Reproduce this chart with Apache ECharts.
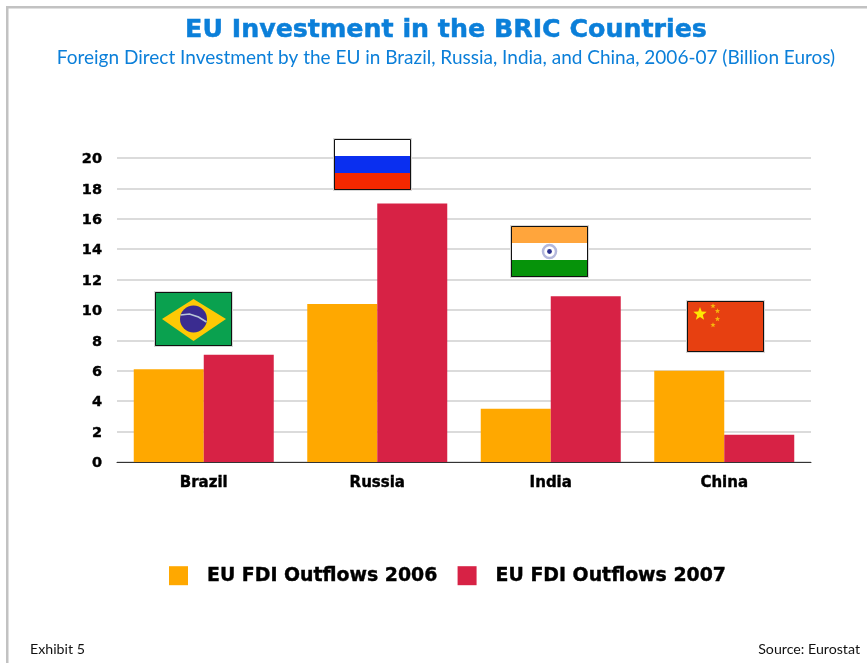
<!DOCTYPE html>
<html>
<head>
<meta charset="utf-8">
<style>html,body{margin:0;padding:0;background:#fff}#chart{width:867px;height:663px}</style>
<script src="https://cdn.jsdelivr.net/npm/echarts@6/dist/echarts.min.js"></script>
</head>
<body>
<div id="chart"></div>
<script>
// EU foreign direct investment outflows to the BRIC countries, billion euros
var categories = ['Brazil', 'Russia', 'India', 'China'];
var outflows2006 = [6.1, 10.4, 3.5, 6.0];
var outflows2007 = [7.05, 17.0, 10.9, 1.8];
var yTicks = [0, 20, 2];

// Value each flag rests on, per country
var flagBase = [7.6, 17.9, 12.17, 7.25];
// Horizontal shift of each flag from its category centre, in pixels
var flagShift = [-10, -5, -1, 1];
// Flag heights in pixels; the Brazilian one is a little taller
var flagHeight = [54, 51, 51, 51];

var FONT = 'Lato, "Noto Sans", sans-serif';
var HEAVY = '"DejaVu Sans", sans-serif';
var BLUE = '#0b7fd9';
var FLAG_W = 77;

function starPoints(cx, cy, r) {
  var pts = [];
  for (var i = 0; i < 10; i++) {
    var rad = i % 2 ? r * 0.42 : r;
    var a = -Math.PI / 2 + i * Math.PI / 5;
    pts.push([cx + rad * Math.cos(a), cy + rad * Math.sin(a)]);
  }
  return pts;
}

function rect(x, y, w, h, fill) {
  return { type: 'rect', shape: { x: x, y: y, width: w, height: h }, style: { fill: fill } };
}

// Each flag is built from plain shapes in a box with its top-left at (x, y)
var flagPainters = {
  Brazil: function (x, y, w, h) {
    var cx = x + w / 2, cy = y + h / 2;
    return [
      rect(x, y, w, h, '#0aa14f'),
      { type: 'polygon', shape: { points: [[x + 7, cy], [cx, y + 7], [x + w - 6, cy], [cx, y + h - 5]] }, style: { fill: '#fdc905' } },
      { type: 'circle', shape: { cx: cx, cy: cy, r: 13.5 }, style: { fill: '#3a2c90' } },
      { type: 'polyline', shape: { points: [[cx - 13, cy - 4], [cx - 4, cy - 5], [cx + 5, cy - 2], [cx + 13, cy + 3]] }, style: { fill: 'none', stroke: '#b9c6d8', lineWidth: 1.6 } }
    ];
  },
  Russia: function (x, y, w, h) {
    return [
      rect(x, y, w, h / 3, '#ffffff'),
      rect(x, y + h / 3, w, h / 3, '#0a2ff0'),
      rect(x, y + 2 * h / 3, w, h / 3, '#f52800')
    ];
  },
  India: function (x, y, w, h) {
    var cx = x + w / 2, cy = y + h / 2;
    return [
      rect(x, y, w, h / 3, '#ffa53c'),
      rect(x, y + h / 3, w, h / 3, '#ffffff'),
      rect(x, y + 2 * h / 3, w, h / 3, '#06930a'),
      { type: 'circle', shape: { cx: cx, cy: cy, r: 6.5 }, style: { fill: '#ffffff', stroke: '#b4b8dc', lineWidth: 2.5 } },
      { type: 'circle', shape: { cx: cx, cy: cy, r: 2.4 }, style: { fill: '#2a2f8f' } }
    ];
  },
  China: function (x, y, w, h) {
    return [
      rect(x, y, w, h, '#e74011'),
      { type: 'polygon', shape: { points: starPoints(x + 13, y + 13, 7) }, style: { fill: '#fde803' } },
      { type: 'polygon', shape: { points: starPoints(x + 26, y + 5, 2.8) }, style: { fill: '#f7b50c' } },
      { type: 'polygon', shape: { points: starPoints(x + 30.5, y + 10, 2.8) }, style: { fill: '#f7b50c' } },
      { type: 'polygon', shape: { points: starPoints(x + 30.5, y + 18, 2.8) }, style: { fill: '#f7b50c' } },
      { type: 'polygon', shape: { points: starPoints(x + 26, y + 24, 2.8) }, style: { fill: '#f7b50c' } }
    ];
  }
};

var chart = echarts.init(document.getElementById('chart'), null, { renderer: 'canvas' });

chart.setOption({
  animation: false,
  backgroundColor: '#ffffff',
  title: [
    { text: 'EU Investment in the BRIC Countries', left: 441, top: 13, textAlign: 'center',
      textStyle: { fontFamily: HEAVY, fontWeight: 'bold', fontSize: 25.3, color: BLUE, textBorderColor: BLUE, textBorderWidth: 0.5 } },
    { text: 'Foreign Direct Investment by the EU in Brazil, Russia, India, and China, 2006-07 (Billion Euros)', left: 441, top: 43, textAlign: 'center',
      textStyle: { fontFamily: FONT, fontWeight: 400, fontSize: 19, color: BLUE } },
    { text: 'Exhibit 5', left: 25, top: 637,
      textStyle: { fontFamily: FONT, fontWeight: 400, fontSize: 14.2, color: '#111' } },
    { text: 'Source: Eurostat', right: 2, top: 637,
      textStyle: { fontFamily: FONT, fontWeight: 400, fontSize: 14.2, color: '#111' } }
  ],
  legend: {
    left: 164, top: 561, itemWidth: 19, itemHeight: 19, itemGap: 20,
    icon: 'rect', selectedMode: false,
    textStyle: { fontFamily: HEAVY, fontWeight: 'bold', fontSize: 18.9, color: '#000', padding: [2, 0, 0, 14], textBorderColor: '#000', textBorderWidth: 0.4 },
    data: ['EU FDI Outflows 2006', 'EU FDI Outflows 2007']
  },
  grid: { left: 117, right: 56, top: 158, height: 304, containLabel: false },
  xAxis: {
    type: 'category', data: categories,
    axisLine: { lineStyle: { color: '#333', width: 1 } },
    axisTick: { show: false },
    axisLabel: { margin: 14, fontFamily: HEAVY, fontWeight: 'bold', fontSize: 15, color: '#000', textBorderColor: '#000', textBorderWidth: 0.4 }
  },
  yAxis: {
    type: 'value', min: yTicks[0], max: yTicks[1], interval: yTicks[2],
    axisLine: { show: false }, axisTick: { show: false },
    axisLabel: { margin: 15, verticalAlign: 'top', lineHeight: 3, fontFamily: HEAVY, fontWeight: 'bold', fontSize: 14.5, color: '#000', textBorderColor: '#000', textBorderWidth: 0.4 },
    splitLine: { lineStyle: { color: '#cfcfcf', width: 1.5 } }
  },
  series: [
    { name: 'EU FDI Outflows 2006', type: 'bar', data: outflows2006, barWidth: 70, barGap: '0%', itemStyle: { color: '#ffa800' } },
    { name: 'EU FDI Outflows 2007', type: 'bar', data: outflows2007, barWidth: 70, itemStyle: { color: '#d72245' } },
    {
      type: 'custom', silent: true, z: 5, legendHoverLink: false, tooltip: { show: false },
      data: categories.map(function (c, i) { return [i, flagBase[i]]; }),
      renderItem: function (params, api) {
        var i = api.value(0);
        var p = api.coord([i, api.value(1)]);
        var h = flagHeight[i];
        var x = Math.round(p[0] + flagShift[i] - FLAG_W / 2);
        var y = Math.round(p[1] - h);
        var parts = flagPainters[categories[i]](x, y, FLAG_W, h);
        // Pale drop edge, then a thin black outline over the flag
        parts.unshift({ type: 'rect', shape: { x: x - 1, y: y - 1, width: FLAG_W + 2, height: h + 2 }, style: { fill: '#d8d8d8' } });
        parts.push({ type: 'rect', shape: { x: x + 0.5, y: y + 0.5, width: FLAG_W - 1, height: h - 1 }, style: { fill: 'none', stroke: '#111', lineWidth: 1 } });
        return { type: 'group', children: parts };
      }
    }
  ],
  graphic: [
    // Page frame along the top and left edges
    { type: 'rect', shape: { x: 6, y: 6, width: 861, height: 2.5 }, style: { fill: '#c2c2c2' }, silent: true },
    { type: 'rect', shape: { x: 6, y: 6, width: 2.5, height: 657 }, style: { fill: '#c2c2c2' }, silent: true }
  ]
});
</script>
</body>
</html>
